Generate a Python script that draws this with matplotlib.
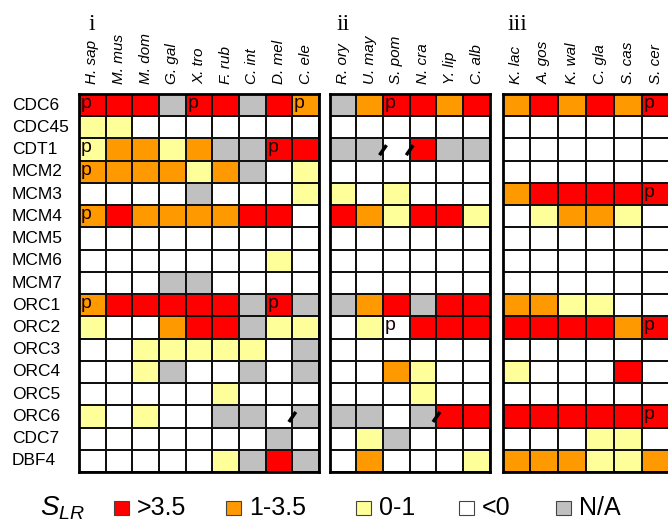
import matplotlib.pyplot as plt
from matplotlib.colors import ListedColormap
from matplotlib.patches import Rectangle
import numpy as np

plt.rcParams['font.family'] = ['Liberation Sans', 'DejaVu Sans']
plt.rcParams['mathtext.fontset'] = 'custom'
plt.rcParams['mathtext.it'] = 'Liberation Sans:italic'
plt.rcParams['mathtext.rm'] = 'Liberation Sans'

genes = ['CDC6', 'CDC45', 'CDT1', 'MCM2', 'MCM3', 'MCM4', 'MCM5', 'MCM6', 'MCM7',
         'ORC1', 'ORC2', 'ORC3', 'ORC4', 'ORC5', 'ORC6', 'CDC7', 'DBF4']

# R: >3.5, O: 1-3.5, Y: 0-1, W: <0, G: N/A
species_i = ['H. sap', 'M. mus', 'M. dom', 'G. gal', 'X. tro', 'F. rub', 'C. int', 'D. mel', 'C. ele']
scores_i = ['RRRGRRGRO',
            'YYWWWWWWW',
            'YOOYOGGRR',
            'OOOOYOGWY',
            'WWWWGWWWY',
            'OROOOORRW',
            'WWWWWWWWW',
            'WWWWWWWYW',
            'WWWGGWWWW',
            'ORRRRRGRG',
            'YWWORRGYY',
            'WWYYYYYWG',
            'WWYGWWGWG',
            'WWWWWYWWW',
            'YWYWWGGWG',
            'WWWWWWWGW',
            'WWWWWYGRG']
p_i = [(0, 0), (0, 4), (0, 8), (2, 0), (2, 7), (3, 0), (5, 0), (9, 0), (9, 7)]
slash_i = [(14, 8)]

species_ii = ['R. ory', 'U. may', 'S. pom', 'N. cra', 'Y. lip', 'C. alb']
scores_ii = ['GORROR',
             'WWWWWW',
             'GGWRGG',
             'WWWWWW',
             'YWYWWW',
             'ROYRRY',
             'WWWWWW',
             'WWWWWW',
             'WWWWWW',
             'GORGRR',
             'WYWRRR',
             'WWWWWW',
             'WWOYWW',
             'WWWYWW',
             'GGWGRR',
             'WYGWWW',
             'WOWWWY']
p_ii = [(0, 2), (10, 2)]
slash_ii = [(2, 2), (2, 3), (14, 4)]

species_iii = ['K. lac', 'A. gos', 'K. wal', 'C. gla', 'S. cas', 'S. cer']
scores_iii = ['OROROR',
              'WWWWWW',
              'WWWWWW',
              'WWWWWW',
              'ORRRRR',
              'WYOOYW',
              'WWWWWW',
              'WWWWWW',
              'WWWWWW',
              'OOYYWW',
              'RRRROR',
              'WWWWWW',
              'YWWWRW',
              'WWWWWW',
              'RRRRRR',
              'WWWYYW',
              'OOOYYO']
p_iii = [(0, 5), (4, 5), (10, 5), (14, 5)]
slash_iii = []

codes = {'W': 0, 'Y': 1, 'O': 2, 'R': 3, 'G': 4}
colors = ['#FFFFFF', '#FFFF99', '#FF9900', '#FF0000', '#C0C0C0']
cmap = ListedColormap(colors)

fig = plt.figure(figsize=(6.68, 5.29), dpi=100)

top_px, bot_px = 94, 472
bottom = 1 - bot_px / 529
height = (bot_px - top_px) / 529
panels = [
    ('i', 88, species_i, scores_i, p_i, slash_i, [79 / 668, bottom, 240 / 668, height]),
    ('ii', 337, species_ii, scores_ii, p_ii, slash_ii, [329.5 / 668, bottom, 160.5 / 668, height]),
    ('iii', 508, species_iii, scores_iii, p_iii, slash_iii, [502.5 / 668, bottom, 167 / 668, height]),
]

for k, (name, nx, species, scores, pmarks, slashes, pos) in enumerate(panels):
    ax = fig.add_axes(pos)
    grid = np.array([[codes[c] for c in row] for row in scores])
    ax.pcolormesh(grid, cmap=cmap, vmin=-0.5, vmax=4.5, edgecolors='#111111', linewidth=1.2)
    ax.set_xlim(0, len(species))
    ax.set_ylim(len(genes), 0)
    for s in ax.spines.values():
        s.set_linewidth(2)
    ax.xaxis.tick_top()
    ax.set_xticks(np.arange(len(species)) + 0.5)
    ax.set_xticklabels(species, rotation=90, fontstyle='italic', fontsize=11)
    ax.tick_params(axis='x', length=0, pad=7)
    ax.set_yticks([])
    for r, c in pmarks:
        ax.text(c + 0.06, r + 0.42, 'p', fontsize=14, color='#1a0000',
                ha='left', va='center')
    for r, b in slashes:
        ax.plot([b - 0.13, b + 0.13], [r + 0.75, r + 0.3], color='black',
                lw=2.5, solid_capstyle='butt', clip_on=False)
    fig.text(nx / 668, 1 - 30 / 529, name, fontsize=17, family='Liberation Serif',
             ha='left', va='baseline')
    if k == 0:
        tr = ax.get_yaxis_transform()
        for r, g in enumerate(genes):
            ax.text(-67 / 240, r + 0.5, g, transform=tr, fontsize=12.5,
                    ha='left', va='center')

# legend
ly = 1 - 508 / 529
fig.text(40 / 668, ly, r'$S_{LR}$', fontsize=20, ha='left', va='center')
legend_items = [('>3.5', 3, 114), ('1-3.5', 2, 226), ('0-1', 1, 356), ('<0', 0, 459), ('N/A', 4, 556)]
sqw, sqh = 15, 14
for label, idx, x0 in legend_items:
    fig.patches.append(Rectangle((x0 / 668, 1 - (508 + sqh / 2) / 529), sqw / 668, sqh / 529,
                                 transform=fig.transFigure, facecolor=colors[idx],
                                 edgecolor='#444444', linewidth=0.8))
    fig.text((x0 + sqw + 8) / 668, ly, label, fontsize=18, ha='left', va='center')

fig.savefig('out.png', dpi=100)
